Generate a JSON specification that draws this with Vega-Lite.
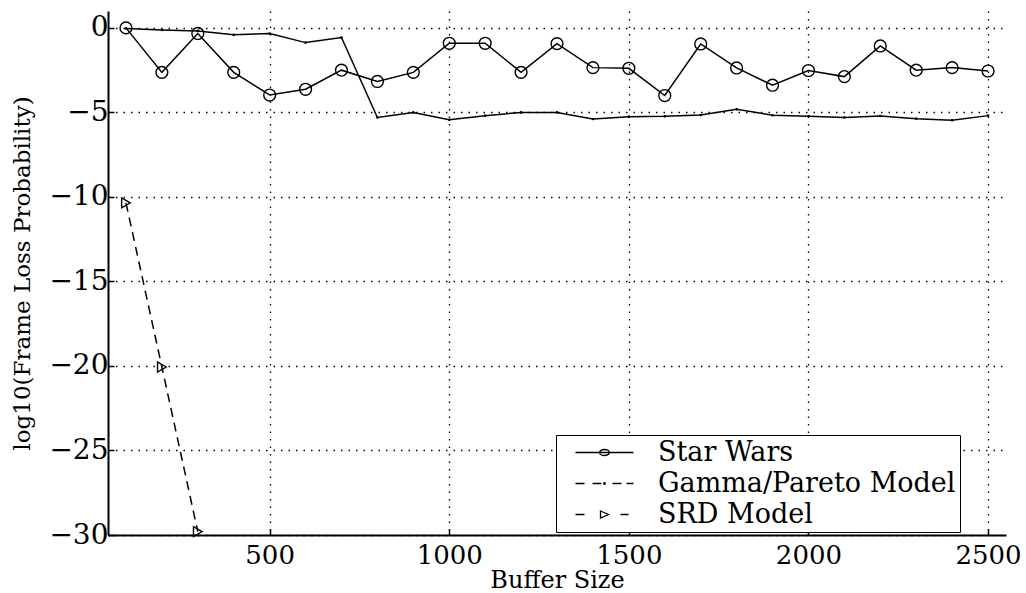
{
  "$schema": "https://vega.github.io/schema/vega-lite/v6.json",
  "width": 898,
  "height": 524,
  "autosize": "none",
  "padding": {"left": 108, "top": 11, "right": 20, "bottom": 58},
  "background": "white",
  "config": {"view": {"stroke": null}, "font": "DejaVu Serif"},
  "datasets": {
    "pts": [
      {"series": "Star Wars", "x": 100, "y": 0},
      {"series": "Star Wars", "x": 200, "y": -2.63},
      {"series": "Star Wars", "x": 300, "y": -0.33},
      {"series": "Star Wars", "x": 400, "y": -2.63},
      {"series": "Star Wars", "x": 500, "y": -3.97},
      {"series": "Star Wars", "x": 600, "y": -3.63},
      {"series": "Star Wars", "x": 700, "y": -2.5},
      {"series": "Star Wars", "x": 800, "y": -3.17},
      {"series": "Star Wars", "x": 900, "y": -2.63},
      {"series": "Star Wars", "x": 1000, "y": -0.91},
      {"series": "Star Wars", "x": 1100, "y": -0.91},
      {"series": "Star Wars", "x": 1200, "y": -2.63},
      {"series": "Star Wars", "x": 1300, "y": -0.93},
      {"series": "Star Wars", "x": 1400, "y": -2.35},
      {"series": "Star Wars", "x": 1500, "y": -2.39},
      {"series": "Star Wars", "x": 1600, "y": -4.0},
      {"series": "Star Wars", "x": 1700, "y": -0.95},
      {"series": "Star Wars", "x": 1800, "y": -2.37},
      {"series": "Star Wars", "x": 1900, "y": -3.39},
      {"series": "Star Wars", "x": 2000, "y": -2.52},
      {"series": "Star Wars", "x": 2100, "y": -2.88},
      {"series": "Star Wars", "x": 2200, "y": -1.07},
      {"series": "Star Wars", "x": 2300, "y": -2.5},
      {"series": "Star Wars", "x": 2400, "y": -2.35},
      {"series": "Star Wars", "x": 2500, "y": -2.55},
      {"series": "Gamma/Pareto Model", "x": 100, "y": -0.03},
      {"series": "Gamma/Pareto Model", "x": 200, "y": -0.12},
      {"series": "Gamma/Pareto Model", "x": 300, "y": -0.18},
      {"series": "Gamma/Pareto Model", "x": 400, "y": -0.41},
      {"series": "Gamma/Pareto Model", "x": 500, "y": -0.33},
      {"series": "Gamma/Pareto Model", "x": 600, "y": -0.87},
      {"series": "Gamma/Pareto Model", "x": 700, "y": -0.57},
      {"series": "Gamma/Pareto Model", "x": 800, "y": -5.3},
      {"series": "Gamma/Pareto Model", "x": 900, "y": -5.0},
      {"series": "Gamma/Pareto Model", "x": 1000, "y": -5.44},
      {"series": "Gamma/Pareto Model", "x": 1100, "y": -5.19},
      {"series": "Gamma/Pareto Model", "x": 1200, "y": -5.0},
      {"series": "Gamma/Pareto Model", "x": 1300, "y": -5.0},
      {"series": "Gamma/Pareto Model", "x": 1400, "y": -5.39},
      {"series": "Gamma/Pareto Model", "x": 1500, "y": -5.25},
      {"series": "Gamma/Pareto Model", "x": 1600, "y": -5.23},
      {"series": "Gamma/Pareto Model", "x": 1700, "y": -5.15},
      {"series": "Gamma/Pareto Model", "x": 1800, "y": -4.81},
      {"series": "Gamma/Pareto Model", "x": 1900, "y": -5.17},
      {"series": "Gamma/Pareto Model", "x": 2000, "y": -5.23},
      {"series": "Gamma/Pareto Model", "x": 2100, "y": -5.3},
      {"series": "Gamma/Pareto Model", "x": 2200, "y": -5.21},
      {"series": "Gamma/Pareto Model", "x": 2300, "y": -5.37},
      {"series": "Gamma/Pareto Model", "x": 2400, "y": -5.47},
      {"series": "Gamma/Pareto Model", "x": 2500, "y": -5.19},
      {"series": "SRD Model", "x": 100, "y": -10.35},
      {"series": "SRD Model", "x": 200, "y": -20.06},
      {"series": "SRD Model", "x": 300, "y": -29.8}
    ]
  },
  "data": {"name": "pts"},
  "encoding": {
    "x": {
      "field": "x", "type": "quantitative",
      "scale": {"domain": [50, 2550], "nice": false, "zero": false},
      "axis": {
        "values": [500, 1000, 1500, 2000, 2500], "format": "d",
        "grid": true, "gridColor": "black", "gridOpacity": 1, "gridDash": [1.5, 6], "gridWidth": 1.3,
        "domainColor": "black", "domainWidth": 2,
        "tickColor": "black", "tickSize": -6, "tickWidth": 1.5,
        "labelFont": "DejaVu Serif", "labelFontSize": 26, "labelColor": "black", "labelPadding": 13,
        "title": "Buffer Size", "titleFont": "DejaVu Serif", "titleFontSize": 24, "titleFontWeight": "normal", "titleColor": "black", "titlePadding": 0
      }
    },
    "y": {
      "field": "y", "type": "quantitative",
      "scale": {"domain": [-30, 1], "nice": false, "zero": false},
      "axis": {
        "values": [0, -5, -10, -15, -20, -25, -30], "format": "d",
        "grid": true, "gridColor": "black", "gridOpacity": 1, "gridDash": [1.5, 6], "gridWidth": 1.3,
        "domainColor": "black", "domainWidth": 2,
        "tickColor": "black", "tickSize": -6, "tickWidth": 1.5,
        "labelFont": "DejaVu Serif", "labelFontSize": 28, "labelColor": "black", "labelPadding": 6,
        "title": "log10(Frame Loss Probability)", "titleFont": "DejaVu Serif", "titleFontSize": 23, "titleFontWeight": "normal", "titleColor": "black", "titlePadding": 14
      }
    }
  },
  "layer": [
    {
      "transform": [{"filter": "datum.series !== 'SRD Model'"}],
      "mark": {"type": "line", "color": "black", "strokeWidth": 1.5},
      "encoding": {"detail": {"field": "series"}}
    },
    {
      "transform": [{"filter": "datum.series === 'SRD Model'"}],
      "mark": {"type": "line", "color": "black", "strokeWidth": 1.5, "strokeDash": [9, 6]},
      "encoding": {}
    },
    {
      "transform": [{"filter": "datum.series === 'Star Wars'"}],
      "mark": {"type": "point", "shape": "circle", "size": 140, "filled": false, "color": "black", "strokeWidth": 1.4, "opacity": 1}
    },
    {
      "transform": [{"filter": "datum.series === 'Gamma/Pareto Model'"}],
      "mark": {"type": "circle", "size": 7, "color": "black", "opacity": 1}
    },
    {
      "transform": [{"filter": "datum.series === 'SRD Model'"}],
      "mark": {"type": "point", "shape": "triangle-right", "size": 100, "filled": false, "color": "black", "strokeWidth": 1.4, "opacity": 1}
    },
    {
      "mark": {"type": "point", "filled": false, "color": "black", "opacity": 0},
      "encoding": {
        "shape": {
          "field": "series", "type": "nominal",
          "scale": {
            "domain": ["Star Wars", "Gamma/Pareto Model", "SRD Model"],
            "range": [
              "M-2.9,0L2.9,0M0.5,0A0.5,0.3 0 1 1 -0.5,0A0.5,0.3 0 1 1 0.5,0",
              "M-2.9,0L-2.0,0M-1.2,0L-0.3,0M0.08,0A0.08,0.08 0 1 1 -0.08,0A0.08,0.08 0 1 1 0.08,0M0.8,0L1.7,0M2.2,0L2.9,0",
              "M-2.9,0L-2.0,0M-0.4,-0.35L0.4,0L-0.4,0.35Z M1.6,0L2.4,0"
            ]
          },
          "legend": {
            "title": null,
            "orient": "none", "legendX": 448, "legendY": 424,
            "strokeColor": "black", "fillColor": "white", "padding": 4,
            "symbolSize": 400, "symbolOffset": 31, "symbolStrokeColor": "black", "symbolStrokeWidth": 1.3,
            "symbolFillColor": "transparent", "symbolOpacity": 1,
            "labelFont": "DejaVu Serif", "labelFontSize": 27, "labelColor": "black", "labelOffset": 40, "labelLimit": 600,
            "rowPadding": 3,
            "encode": {
              "labels": {"update": {
                "text": {"signal": "datum.label + '\u00a0\u00a0\u00a0\u00a0'"},
                "fontStyle": {"signal": "datum.label === 'Star Wars' ? 'italic' : 'normal'"}
              }}
            }
          }
        }
      }
    }
  ]
}
